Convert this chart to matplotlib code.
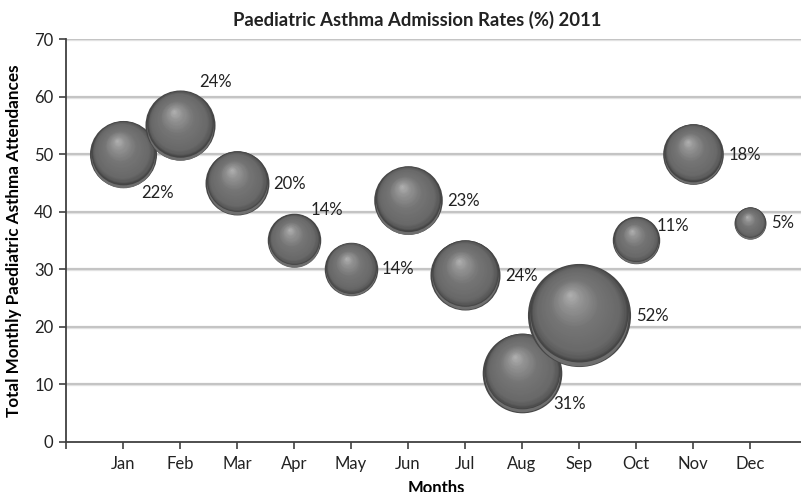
import matplotlib
matplotlib.use("Agg")
import matplotlib.pyplot as plt
import matplotlib.transforms as mtrans
import numpy as np

plt.rcParams["font.family"] = ["Lato", "DejaVu Sans"]

# ── data ──────────────────────────────────────────────────────────────────────
months      = ["Jan", "Feb", "Mar", "Apr", "May", "Jun",
               "Jul", "Aug", "Sep", "Oct", "Nov", "Dec"]
attendances = [50, 55, 45, 35, 30, 42, 29, 12, 22, 35, 50, 38]
admit_rate  = [22, 24, 20, 14, 14, 23, 24, 31, 52, 11, 18, 5]   # %

# label offsets (pixels) relative to bubble centre
label_dx = [34, 35, 52, 33, 47, 55, 56, 48, 73, 37, 52, 33]
label_dy = [-39, 43, -1, 30, 0, -1, -1, -31, -1, 14, -1, 0]

SIZE_K = 106.0   # scatter area (pt^2) per %-point, bubble area ∝ rate
N_LAYERS = 45
HL = np.array([-0.18, 0.36])   # highlight direction (fraction of radius)


def sphere_grey(t):
    # t=0 outer edge, t=1 highlight centre
    tp = [0.0, 0.05, 0.15, 0.50, 0.80, 1.0]
    gp = [0.27, 0.35, 0.41, 0.46, 0.58, 0.70]
    return float(np.interp(t, tp, gp))


fig = plt.figure(figsize=(8.01, 4.92), dpi=100)
W, H = 801, 492
ax = fig.add_axes([66 / W, (H - 441.7) / H, (807 - 66) / W, (441.7 - 39) / H])

x = np.arange(1, len(months) + 1)

# gridlines
for yv in range(10, 71, 10):
    ax.axhline(yv, color="#c4c4c4", lw=1.6, zorder=1)
    ax.axhline(yv - 0.18, color="#e6e6e6", lw=1.0, zorder=0.9)

# 3D-looking bubbles
for i, (xi, yi, r) in enumerate(zip(x, attendances, admit_rate)):
    s = SIZE_K * r
    rad = np.sqrt(s) / 2.0
    zb = 3 + i
    # dark rim + soft lower reflection
    ax.scatter([xi], [yi], s=s, color="0.28", linewidths=0, zorder=zb)
    tr = mtrans.offset_copy(ax.transData, fig=fig, x=0, y=-0.045 * rad, units="points")
    ax.scatter([xi], [yi], s=s * 0.90, color="0.43", linewidths=0, zorder=zb, transform=tr)
    for k in range(N_LAYERS):
        t = k / N_LAYERS
        f = 0.95 * (1 - t)
        off = HL * t * rad + np.array([0, 0.045 * rad])
        tr = mtrans.offset_copy(ax.transData, fig=fig, x=off[0], y=off[1], units="points")
        ax.scatter([xi], [yi], s=s * f * f, color=str(sphere_grey(t)),
                   linewidths=0, zorder=zb, transform=tr)

for xi, yi, r, dx, dy in zip(x, attendances, admit_rate, label_dx, label_dy):
    ax.annotate(f"{r}%", (xi, yi), xytext=(dx, dy), textcoords="offset pixels",
                ha="center", va="center", fontsize=12, color="#222222", zorder=50)

ax.set_xlim(0, 13)
ax.set_ylim(0, 70)
ax.set_xticks(np.arange(0, 14))
ax.set_xticklabels([""] + months + [""])
ax.set_yticks(range(0, 71, 10))
ax.tick_params(axis="both", direction="out", length=5, width=1.2, color="#404040",
               labelsize=12, labelcolor="#222222", pad=4)
ax.tick_params(axis="x", pad=5)
for side in ("top", "right"):
    ax.spines[side].set_visible(False)
for side in ("left", "bottom"):
    ax.spines[side].set_color("#404040")
    ax.spines[side].set_linewidth(1.3)

ax.set_xlabel("Months", fontsize=12, fontweight="bold", labelpad=6)
ax.set_ylabel("Total Monthly Paediatric Asthma Attendances", fontsize=12.3,
              fontweight="bold", labelpad=9)
fig.text(417 / W, 1 - 20 / H, "Paediatric Asthma Admission Rates (%) 2011",
         ha="center", va="center", fontsize=13.3, fontweight="bold", color="#222222")

fig.savefig("out.png", dpi=100)
